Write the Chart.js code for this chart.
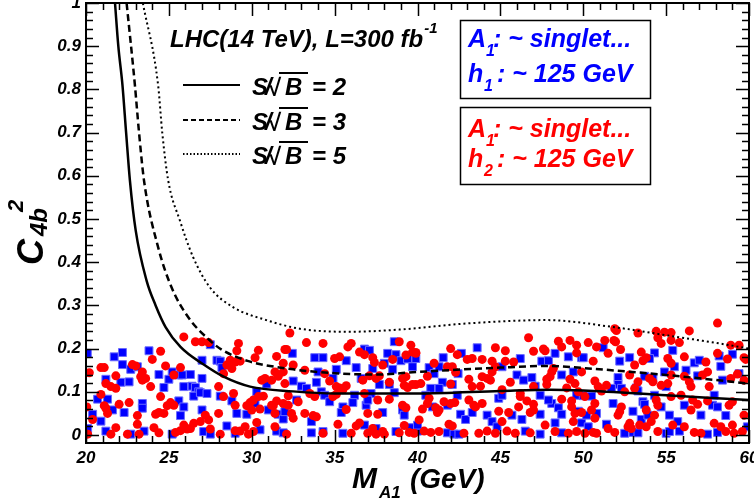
<!DOCTYPE html>
<html>
<head>
<meta charset="utf-8">
<script src="https://cdn.jsdelivr.net/npm/chart.js@4.4.0/dist/chart.umd.min.js"></script>
<style>
  html, body { margin: 0; padding: 0; background: #fff; }
</style>
</head>
<body>
<canvas id="chart" width="754" height="501"></canvas>
<script>
// Ejes
const xTickValues = [20, 25, 30, 35, 40, 45, 50, 55, 60];
const yTickValues = [0, 0.1, 0.2, 0.3, 0.4, 0.5, 0.6, 0.7, 0.8, 0.9, 1];

// Curvas S/sqrt(B) = 2, 3, 5
const sb2X = [21.75, 21.95, 22.2, 22.42, 22.65, 23.0, 23.65, 24.2, 24.8, 25.7, 27.1, 28.3, 29.9, 32.5, 35, 40, 45, 48, 50, 55, 60];
const sb2Y = [1.0, 0.9, 0.81, 0.7, 0.589, 0.473, 0.358, 0.3, 0.25, 0.204, 0.163, 0.135, 0.112, 0.101, 0.096, 0.096, 0.102, 0.105, 0.103, 0.092, 0.081];
const sb3X = [22.45, 22.95, 23.2, 23.5, 24.35, 25.16, 26.16, 27.47, 28.25, 29.8, 32.5, 35, 37.5, 40, 45, 48, 50, 55, 60];
const sb3Y = [1.0, 0.81, 0.7, 0.589, 0.435, 0.342, 0.273, 0.219, 0.196, 0.171, 0.152, 0.143, 0.14, 0.146, 0.156, 0.16, 0.155, 0.139, 0.119];
const sb5X = [23.43, 24.35, 24.6, 24.96, 25.66, 26.46, 27.47, 28.87, 30.88, 32.9, 35.9, 38.9, 42.9, 47.8, 51.8, 55, 58.2, 60];
const sb5Y = [1.0, 0.81, 0.7, 0.589, 0.497, 0.412, 0.342, 0.296, 0.266, 0.246, 0.239, 0.244, 0.258, 0.266, 0.25, 0.231, 0.212, 0.2];

// Puntos h1 ~ 125 GeV (azul)
const bluePoints = [
  [20.08,.189],[21.7,.181],[22.2,.191],[23.8,.195],[22.2,.163],[22.7,.152],[23.1,.158],[21.2,.129],[22.1,.122],[22.6,.123],
  [20.7,.083],[21.3,.083],[21.6,.058],[22.3,.052],[20.4,.048],[20.9,.032],[21.2,.009],[23.4,.073],[23.4,.062],[24.4,.14],
  [24.7,.11],[25.2,.146],[25.0,.129],[25.6,.139],[25.8,.139],[26.3,.14],[25.9,.112],[26.4,.113],[25.6,.079],[25.9,.065],
  [25.7,.045],[26.6,.11],[26.8,.1],[26.5,.09],[26.9,.098],[27.3,.096],[27.0,.131],[27.0,.173],[27.5,.209],[27.9,.173],
  [28.1,.171],[28.2,.156],[28.1,.09],[28.8,.079],[29.1,.05],[29.7,.048],[27.0,.058],[27.1,.008],[27.5,.002],[28.5,.021],
  [29.0,.004],[25.2,.002],[22.7,.002],[23.5,.009],[20.1,.015],
  [32.45,.189],[33.8,.179],[34.3,.179],[35.7,.172],[36.8,.199],[37.1,.196],[38.2,.189],[38.6,.216],[38.7,.186],[39.0,.172],
  [39.4,.176],[39.9,.177],[39.7,.158],[36.3,.156],[37.3,.154],[38.0,.166],[38.5,.152],[34.0,.146],[35.1,.152],[36.6,.131],
  [37.7,.117],[38.3,.117],[32.5,.125],[30.9,.118],[30.3,.1],[33.0,.113],[33.3,.108],[33.9,.122],[34.9,.131],[34.2,.1],
  [34.4,.092],[36.2,.092],[37.2,.096],[38.6,.098],[34.7,.077],[32.7,.081],[35.5,.065],[36.1,.075],[36.9,.069],[37.0,.081],
  [30.2,.073],[31.0,.058],[31.6,.048],[31.9,.037],[32.0,.054],[35.4,.052],[37.9,.052],[39.1,.058],[39.2,.046],[33.6,.031],
  [36.8,.023],[37.5,.015],[30.5,.012],[31.5,.009],[31.9,.005],[33.6,.005],[34.3,.008],[35.5,.004],[38.7,.008],[39.6,.017],[40.0,.009],
  [42.65,.189],[43.6,.202],[41.55,.179],[40.7,.156],[41.0,.142],[41.3,.158],[42.45,.142],[42.1,.117],[41.5,.122],[40.8,.108],
  [41.3,.108],[40.5,.092],[42.4,.092],[41.8,.069],[40.9,.065],[45.1,.158],[46.2,.177],[47.5,.171],[47.9,.172],[48.3,.189],
  [49.1,.181],[49.9,.179],[48.7,.139],[49.4,.146],[46.0,.139],[46.4,.127],[46.9,.133],[47.1,.113],[44.9,.085],[45.1,.092],
  [48.1,.073],[47.9,.081],[47.4,.092],[49.6,.092],[42.6,.048],[42.9,.036],[43.3,.052],[44.2,.046],[44.5,.031],[44.8,.019],
  [45.7,.046],[46.3,.036],[47.4,.048],[48.5,.063],[48.7,.048],[49.7,.055],[49.9,.028],[48.3,.028],[40.0,.023],[41.8,.005],
  [42.2,.002],[42.5,.002],[46.5,.009],[47.4,.002],[48.7,.005],
  [51.2,.202],[52.2,.171],[52.8,.179],[50.0,.179],[54.3,.19],[55.4,.196],[54.0,.177],[53.7,.136],[54.2,.132],[54.9,.146],
  [55.5,.158],[56.2,.15],[56.7,.167],[57.0,.173],[58.2,.183],[59.0,.187],[56.9,.137],[58.3,.159],[58.4,.127],[59.4,.142],
  [52.1,.133],[52.1,.117],[51.7,.108],[52.3,.108],[53.2,.109],[55.0,.112],[50.0,.091],[50.5,.09],[51.8,.073],[53.3,.102],
  [53.6,.077],[53.7,.071],[54.3,.092],[54.7,.065],[56.1,.069],[57.9,.092],[57.8,.069],[58.1,.065],[58.6,.045],[57.1,.046],
  [55.2,.046],[53.0,.055],[53.5,.036],[53.9,.046],[55.7,.031],[50.2,.046],[50.8,.05],[51.4,.025],[50.3,.019],[52.5,.004],
  [53.0,.006],[53.3,.005],[55.0,.004],[55.2,.008],[55.8,.009],[57.5,.002],[58.1,.006],[59.9,.019]
];

// Puntos h2 ~ 125 GeV (rojo)
const redPoints = [
  [20.2,.144],[20.9,.156],[21.1,.156],[22.8,.163],[23.0,.16],[23.4,.146],[23.6,.131],[24.0,.175],[24.5,.194],[24.8,.16],
  [25.7,.156],[25.3,.139],[25.9,.227],[26.6,.216],[27.0,.216],[27.4,.214],[29.1,.195],[29.2,.212],[28.7,.173],[29.0,.169],
  [29.3,.171],[28.5,.162],[28.8,.154],[28.3,.142],[21.8,.137],[21.2,.119],[21.5,.112],[21.8,.108],[23.3,.135],[23.4,.127],
  [23.9,.112],[24.5,.089],[20.9,.094],[21.1,.068],[21.2,.062],[21.3,.05],[22.0,.071],[22.6,.075],[23.1,.045],[24.2,.048],
  [24.4,.052],[24.7,.05],[24.9,.068],[25.1,.075],[25.3,.069],[20.4,.036],[21.8,.017],[21.5,.002],[22.5,.002],[23.1,.025],
  [23.2,.002],[24.1,.017],[24.4,.005],[25.4,.006],[25.7,.01],[25.9,.023],[26.1,.014],[26.3,.015],[26.5,.027],[26.9,.031],
  [27.2,.046],[27.4,.035],[27.5,.014],[28.0,.05],[28.1,.002],[29.0,.01],[29.3,.009],[29.7,.068],[29.9,.075],[29.6,.019],
  [29.8,.002],[28.0,.112],[28.3,.089],[28.9,.096],[29.0,.069],[20.1,.002],[20.05,.065],
  [32.3,.236],[33.3,.214],[34.3,.212],[30.4,.196],[32.0,.198],[32.1,.198],[31.5,.182],[30.2,.179],[31.9,.166],[32.5,.162],
  [31.4,.146],[31.9,.146],[31.6,.136],[30.8,.131],[30.6,.127],[31.2,.127],[32.0,.119],[35.8,.204],[36.0,.212],[36.5,.192],
  [36.8,.186],[35.0,.177],[35.3,.181],[37.3,.179],[37.4,.168],[37.9,.162],[38.5,.175],[38.9,.216],[39.6,.208],[39.7,.192],
  [39.9,.191],[39.3,.185],[33.2,.15],[34.4,.142],[34.7,.125],[35.1,.112],[35.3,.109],[35.7,.114],[35.5,.105],[35.1,.094],
  [34.9,.089],[33.8,.089],[33.5,.096],[36.7,.127],[37.1,.137],[37.5,.131],[37.7,.137],[38.3,.122],[39.1,.131],[39.3,.135],
  [39.2,.115],[39.4,.11],[39.7,.117],[36.8,.096],[37.6,.081],[38.3,.083],[30.1,.081],[30.4,.089],[30.7,.09],[32.2,.091],
  [31.9,.073],[31.5,.079],[31.2,.069],[31.3,.068],[32.2,.069],[32.8,.077],[30.0,.058],[30.5,.06],[32.4,.05],[32.5,.039],
  [33.2,.05],[33.7,.045],[33.9,.042],[31.4,.05],[31.4,.019],[30.3,.029],[35.7,.059],[37.0,.05],[37.6,.048],[35.2,.025],
  [36.3,.021],[36.5,.028],[37.3,.015],[37.9,.008],[39.1,.069],[39.3,.063],[39.2,.022],[39.5,.006],[39.8,.004],[30.1,.008],
  [32.1,.002],[34.3,.004],[36.0,.004],[37.0,.004],[37.5,.002],[38.0,.002],[38.9,.005],
  [39.9,.189],[42.0,.2],[42.4,.186],[43.0,.175],[43.3,.177],[43.9,.175],[44.7,.202],[45.3,.195],[46.7,.225],[47.0,.194],
  [47.6,.199],[47.7,.195],[48.5,.217],[48.7,.204],[49.2,.219],[49.6,.208],[49.6,.19],[41.0,.166],[41.8,.158],[42.1,.158],
  [42.3,.145],[40.6,.136],[44.5,.171],[44.7,.158],[45.3,.171],[45.8,.169],[44.5,.146],[44.2,.131],[43.9,.135],[43.1,.129],
  [43.8,.113],[43.3,.112],[44.4,.127],[42.0,.118],[40.2,.119],[39.9,.117],[40.7,.085],[40.6,.073],[41.1,.063],[41.2,.052],
  [41.3,.058],[40.3,.06],[40.1,.035],[41.6,.077],[42.0,.073],[42.25,.075],[43.1,.081],[43.4,.069],[43.5,.065],[43.9,.073],
  [45.1,.105],[45.6,.122],[46.2,.096],[46.2,.089],[46.1,.065],[46.6,.079],[47.0,.071],[47.0,.058],[46.8,.052],[47.0,.112],
  [47.8,.129],[48.0,.135],[48.1,.146],[47.8,.117],[48.2,.154],[49.2,.129],[49.5,.119],[49.7,.1],[49.0,.109],[49.3,.065],
  [49.5,.05],[48.7,.083],[50.1,.089],[44.9,.055],[45.1,.031],[45.5,.052],[45.4,.009],[45.9,.004],[44.7,.004],[43.7,.004],
  [44.2,.009],[42.8,.004],[40.4,.009],[40.8,.006],[41.3,.008],[41.9,.025],[42.1,.021],[46.8,.005],[47.7,.023],[48.3,.008],
  [49.1,.004],[49.6,.008],[49.4,.031],[49.3,.079],
  [51.9,.246],[54.4,.24],[54.9,.238],[55.3,.237],[56.4,.241],[54.5,.225],[54.7,.212],[55.3,.219],[55.8,.214],[50.3,.214],
  [50.8,.204],[51.3,.219],[51.85,.219],[51.95,.216],[51.5,.189],[52.25,.198],[53.5,.192],[53.8,.179],[53.6,.172],[53.1,.162],
  [50.6,.171],[55.1,.177],[55.3,.166],[56.1,.181],[57.4,.169],[58.1,.189],[58.7,.176],[58.9,.208],[59.7,.179],[59.8,.175],
  [57.5,.146],[57.2,.139],[56.1,.136],[55.3,.139],[55.1,.119],[54.7,.115],[54.0,.131],[54.2,.123],[52.8,.139],[53.3,.123],
  [53.1,.108],[52.5,.1],[51.4,.115],[51.1,.102],[50.7,.125],[50.9,.112],[49.9,.146],[56.4,.123],[56.5,.112],[57.6,.112],
  [58.9,.131],[59.3,.141],[59.7,.127],[55.3,.089],[55.9,.092],[56.6,.081],[56.9,.071],[56.5,.058],[54.4,.081],[54.5,.069],
  [53.8,.058],[54.3,.046],[54.1,.031],[52.3,.065],[52.2,.054],[52.1,.046],[50.7,.073],[50.5,.058],[50.7,.039],[49.9,.052],
  [52.8,.027],[52.7,.019],[52.9,.015],[53.4,.023],[53.8,.019],[54.5,.008],[55.4,.023],[56.1,.019],[56.7,.006],[57.1,.004],
  [57.9,.027],[58.3,.019],[58.6,.008],[59.0,.023],[59.1,.004],[59.6,.008],[59.7,.046],[58.8,.069],[59.0,.077],[57.5,.079],
  [50.1,.004],[50.8,.004],[50.6,.006],[51.9,.006],[51.5,.015],[58.1,.259],[52.0,.242],[53.3,.236],[59.4,.208]
];

const FONT = '"Liberation Sans", Arial, sans-serif';

function toXY(xs, ys) {
    return xs.map((x, i) => ({ x: x, y: ys[i] }));
}
function pairs(list) {
    return list.map(p => ({ x: p[0], y: p[1] }));
}

// Marco, ticks interiores y textos estilo ROOT
const rootStyle = {
    id: 'rootStyle',
    afterDatasetsDraw(chart) {
        const ctx = chart.ctx;
        const a = chart.chartArea;
        const xs = chart.scales.x;
        const ys = chart.scales.y;
        ctx.save();
        ctx.strokeStyle = '#000';

        // ticks
        ctx.lineWidth = 1.5;
        ctx.beginPath();
        for (let v = 20; v <= 60; v++) {
            const px = Math.round(xs.getPixelForValue(v)) + 0.5;
            const len = v % 5 === 0 ? 13 : 7;
            ctx.moveTo(px, a.bottom); ctx.lineTo(px, a.bottom - len);
            ctx.moveTo(px, a.top); ctx.lineTo(px, a.top + len);
        }
        for (let k = 0; k <= 50; k++) {
            const v = k * 0.02;
            const py = Math.round(ys.getPixelForValue(v)) + 0.5;
            const len = k % 5 === 0 ? 13 : 7;
            ctx.moveTo(a.left, py); ctx.lineTo(a.left + len, py);
            ctx.moveTo(a.right, py); ctx.lineTo(a.right - len, py);
        }
        ctx.stroke();

        // marco
        ctx.lineWidth = 2;
        ctx.strokeRect(a.left, a.top, a.right - a.left, a.bottom - a.top);

        ctx.fillStyle = '#000';
        ctx.textBaseline = 'alphabetic';
        ctx.textAlign = 'left';

        // titulo eje X
        ctx.font = 'bold italic 30px ' + FONT;
        ctx.fillText('M', 352, 488);
        const mw = ctx.measureText('M').width;
        ctx.font = 'bold italic 17px ' + FONT;
        ctx.fillText('A1', 352 + mw + 2, 498);
        ctx.font = 'bold italic 28px ' + FONT;
        ctx.fillText('(GeV)', 410, 488);

        // titulo eje Y
        ctx.save();
        ctx.translate(43, 265);
        ctx.rotate(-Math.PI / 2);
        ctx.font = 'bold italic 36px ' + FONT;
        ctx.fillText('C', 0, 0);
        ctx.font = 'bold italic 24px ' + FONT;
        ctx.fillText('4b', 29, 4);
        ctx.font = 'bold italic 22px ' + FONT;
        ctx.fillText('2', 53, -20);
        ctx.restore();

        // LHC
        ctx.font = 'bold italic 24px ' + FONT;
        ctx.fillText('LHC(14 TeV), L=300 fb', 170, 47);
        const w = ctx.measureText('LHC(14 TeV), L=300 fb').width;
        ctx.font = 'bold italic 15px ' + FONT;
        ctx.fillText('-1', 170 + w + 1, 33);

        // leyenda de curvas
        const rows = [
            { y: 85, dash: [], label: '2' },
            { y: 120, dash: [5, 3], label: '3' },
            { y: 154, dash: [1.5, 2], label: '5' }
        ];
        rows.forEach(r => {
            ctx.lineWidth = 2;
            ctx.setLineDash(r.dash);
            ctx.beginPath();
            ctx.moveTo(183, r.y); ctx.lineTo(240, r.y);
            ctx.stroke();
            ctx.setLineDash([]);
            const base = r.y + 10;
            ctx.font = 'bold italic 24px ' + FONT;
            ctx.fillText('S', 252, base);
            ctx.fillText('/', 265, base);
            ctx.font = 'bold 24px ' + FONT;
            ctx.fillText('\u221A', 268, base + 1);
            ctx.font = 'bold italic 24px ' + FONT;
            ctx.fillText('B', 285, base);
            ctx.fillText('= ' + r.label, 312, base);
            ctx.lineWidth = 2;
            ctx.beginPath();
            ctx.moveTo(279, base - 22); ctx.lineTo(308, base - 22);
            ctx.stroke();
        });

        // cajas
        const boxes = [
            { top: 20, color: '#0000ff', h: '1', b1: 47, b2: 82 },
            { top: 107, color: '#ff0000', h: '2', b1: 137, b2: 167 }
        ];
        boxes.forEach(b => {
            ctx.fillStyle = '#fff';
            ctx.fillRect(460, b.top, 190, b.top === 20 ? 78 : 77);
            ctx.lineWidth = 1.5;
            ctx.strokeStyle = '#000';
            ctx.strokeRect(460.5, b.top + 0.5, 190, b.top === 20 ? 78 : 77);
            ctx.fillStyle = b.color;
            ctx.font = 'bold italic 25px ' + FONT;
            ctx.fillText('A', 468, b.b1);
            ctx.fillText(': ~ singlet...', 493, b.b1);
            ctx.fillText('h', 468, b.b2);
            ctx.fillText(': ~ 125 GeV', 497, b.b2);
            ctx.font = 'bold italic 16px ' + FONT;
            ctx.fillText('1', 486, b.b1 + 9);
            ctx.fillText(b.h, 484, b.b2 + 9);
        });

        ctx.restore();
    }
};

const ctx = document.getElementById('chart');
new Chart(ctx, {
    type: 'scatter',
    data: {
        datasets: [
            {
                label: 'S/sqrt(B) = 2',
                data: toXY(sb2X, sb2Y),
                showLine: true,
                borderColor: '#000',
                borderWidth: 2.5,
                pointRadius: 0,
                cubicInterpolationMode: 'monotone'
            },
            {
                label: 'S/sqrt(B) = 3',
                data: toXY(sb3X, sb3Y),
                showLine: true,
                borderColor: '#000',
                borderWidth: 2.5,
                borderDash: [7, 4],
                pointRadius: 0,
                cubicInterpolationMode: 'monotone'
            },
            {
                label: 'S/sqrt(B) = 5',
                data: toXY(sb5X, sb5Y),
                showLine: true,
                borderColor: '#000',
                borderWidth: 2,
                borderDash: [2, 3],
                pointRadius: 0,
                cubicInterpolationMode: 'monotone'
            },
            {
                label: 'h2 ~ 125 GeV',
                data: pairs(redPoints),
                backgroundColor: '#ff0000',
                borderWidth: 0,
                pointRadius: 4.5,
                pointHoverRadius: 4.5
            },
            {
                label: 'h1 ~ 125 GeV',
                data: pairs(bluePoints),
                pointStyle: 'rect',
                backgroundColor: '#0000ff',
                borderColor: '#6a6aff',
                borderWidth: 1,
                pointRadius: 5.6,
                pointHoverRadius: 5.6
            }
        ]
    },
    options: {
        responsive: false,
        animation: false,
        events: [],
        layout: {
            autoPadding: false,
            padding: { left: 0, right: 5, top: 3, bottom: 0 }
        },
        plugins: {
            legend: { display: false },
            tooltip: { enabled: false }
        },
        scales: {
            x: {
                type: 'linear',
                min: 20,
                max: 60,
                grid: { display: false, drawTicks: false },
                border: { display: false },
                afterBuildTicks: s => { s.ticks = xTickValues.map(v => ({ value: v })); },
                afterFit: s => { s.height = 58; s.paddingLeft = 0; s.paddingRight = 0; },
                ticks: {
                    color: '#000',
                    padding: 5,
                    maxRotation: 0,
                    autoSkip: false,
                    font: { family: FONT, size: 17, weight: 'bold', style: 'italic' },
                    callback: v => String(v)
                }
            },
            y: {
                type: 'linear',
                min: -0.0185,
                max: 1,
                grid: { display: false, drawTicks: false },
                border: { display: false },
                afterBuildTicks: s => { s.ticks = yTickValues.map(v => ({ value: v })); },
                afterFit: s => { s.width = 86; s.paddingTop = 0; s.paddingBottom = 0; },
                ticks: {
                    color: '#000',
                    padding: 5,
                    autoSkip: false,
                    font: { family: FONT, size: 17, weight: 'bold', style: 'italic' },
                    callback: v => String(Math.round(v * 10) / 10)
                }
            }
        }
    },
    plugins: [rootStyle]
});
</script>
</body>
</html>
